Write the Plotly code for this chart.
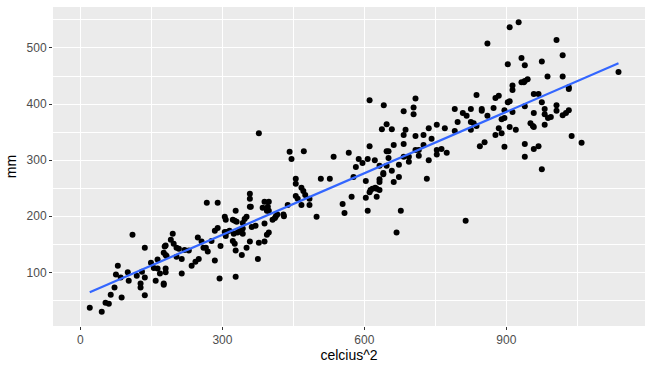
import numpy as np
import plotly.graph_objects as go

pts = [
(19.7,37),(45,30),(53,46),(60,44),(64,60),(87,55),(72,73),(75,96),(79,112),(85,91),
(100,100),(102,85),(110,167),(119,94),(127,80),(127,73),(136,59),(136,91),(136,144),(130,101),
(149,117),(155,108),(163,123),(163,107),(168,98),(159,85),(176,80),(176,78),(176,135),(180,131),
(182,129),(178,146),(180,148),(180,107),(180,100),(191,158),(195,169),(197,151),(203,144),(208,142),
(203,128),(214,124),(214,98),(220,140),(229,139),(235,112),(243,119),(250,124),(248,162),(256,155),
(260,144),(265,144),(267,224),(269,137),
(277,156),(284,121),(294,89),(290,224),(296,147),(284,174),(290,179),(305,199),(307,194),(305,172),
(309,172),(307,165),(315,174),(322,194),(326,192),(330,190),(328,210),(324,169),(332,171),(336,174),
(343,178),(322,156),(326,151),(328,139),(328,92),(341,131),(343,169),(343,188),(347,195),(351,199),
(351,144),(358,155),(358,217),(360,217),(358,231),(358,240),(362,181),(370,183),(375,124),(377,153),
(377,348),(385,215),(389,187),(389,226),(398,226),(394,210),(398,210),(396,217),(389,155),(394,167),
(398,171),(406,194),(411,197),(413,200),(416,203),(430,200),(429,203),(438,220),(442,315),(446,302),
(455,267),(455,258),(455,236),(459,231),(467,251),(471,245),(475,238),(467,220),(472,316),(484,231),
(484,220),(499,199),(508,267),(527,267),(535,306),(554,222),(558,206),(567,313),
(573,235),(577,270),(582,288),(588,302),(596,295),(603,263),(603,233),(607,210),(607,302),(611,325),
(611,407),(622,300),(611,243),(613,247),(617,249),(623,251),(626,249),(632,247),(626,235),(632,266),
(632,261),(640,277),(640,275),(632,290),(647,290),(637,355),(647,364),(658,355),(641,398),(647,316),
(651,316),(651,304),(658,281),(662,261),(662,327),(668,171),(673,292),(673,270),(677,210),(683,345),
(683,329),(683,387),(683,306),(687,354),(694,297),(694,306),(704,382),(704,394),(708,410),(708,343),
(708,318),(715,308),(715,318),(725,345),(725,327),(732,267),(736,300),(736,357),(742,338),(753,363),
(753,318),(753,310),(763,320),(774,313),(770,357),(791,391),(791,352),(797,368),(808,384),(814,192),
(816,379),(825,391),(825,368),(825,354),(831,366),(837,361),(837,416),(844,325),(854,332),(848,391),
(848,388),(860,379),
(860,508),(873,393),(877,411),(884,415),(877,345),(884,357),(890,348),(896,324),(890,373),(896,375),
(896,389),(903,403),(907,405),(903,471),(907,537),(907,359),(913,433),(913,425),(913,386),(920,354),
(926,546),(932,482),(932,439),(937,439),(939,441),(945,444),(939,469),(939,396),(939,329),(939,306),
(951,366),(956,361),(958,359),(958,418),(968,418),(958,384),(958,320),(968,325),(975,476),(975,403),
(975,284),(981,391),(981,382),(981,363),(988,375),(994,377),(987,449),(1006,514),(1006,398),(1006,388),
(1019,487),(1019,449),(1019,380),(1026,384),(1032,389),(1032,430),(1032,427),(1038,343),(1059,331),(1137,457),
]
celcius_sq = [p[0] for p in pts]
mm = [p[1] for p in pts]

x_ticks = [0, 300, 600, 900]
y_ticks = [100, 200, 300, 400, 500]

xa = np.array(celcius_sq)
ya = np.array(mm)
slope, intercept = np.polyfit(xa, ya, 1)
fx = np.linspace(xa.min(), xa.max(), 80)
fy = slope * fx + intercept

fig = go.Figure()
fig.add_trace(go.Scatter(x=celcius_sq, y=mm, mode="markers",
                         marker=dict(color="black", size=6, line=dict(width=0)),
                         showlegend=False, hoverinfo="skip"))
fig.add_trace(go.Scatter(x=fx, y=fy, mode="lines",
                         line=dict(color="#3366FF", width=2.2),
                         showlegend=False, hoverinfo="skip"))

axis_common = dict(
    showgrid=True, gridcolor="white", gridwidth=1.1,
    zeroline=False, showline=False, automargin=False,
    ticks="outside", ticklen=3, tickwidth=1, tickcolor="#333333",
    tickfont=dict(family="Liberation Sans, Arial", size=12, color="#4D4D4D"),
    title_font=dict(family="Liberation Sans, Arial", size=14, color="black"),
)
fig.update_xaxes(**axis_common, range=[-58, 1193], tickvals=x_ticks,
                 ticktext=[str(v) for v in x_ticks],
                 minor=dict(tickvals=[150, 450, 750, 1050], showgrid=True,
                            gridcolor="white", gridwidth=0.5, ticks=""),
                 title=dict(text="celcius^2", standoff=3))
fig.update_yaxes(**axis_common, range=[4.4, 573], tickvals=y_ticks,
                 ticktext=[str(v) for v in y_ticks],
                 minor=dict(tickvals=[50, 150, 250, 350, 450, 550], showgrid=True,
                            gridcolor="white", gridwidth=0.5, ticks=""),
                 title=dict(text="mm", standoff=6))
fig.update_layout(
    width=653, height=371,
    margin=dict(l=53, r=8, t=7, b=45),
    plot_bgcolor="#EBEBEB", paper_bgcolor="white",
)
fig.write_html("out.html", config={"displayModeBar": False},
               post_script="document.body.style.margin='0';document.body.style.overflow='hidden';")
